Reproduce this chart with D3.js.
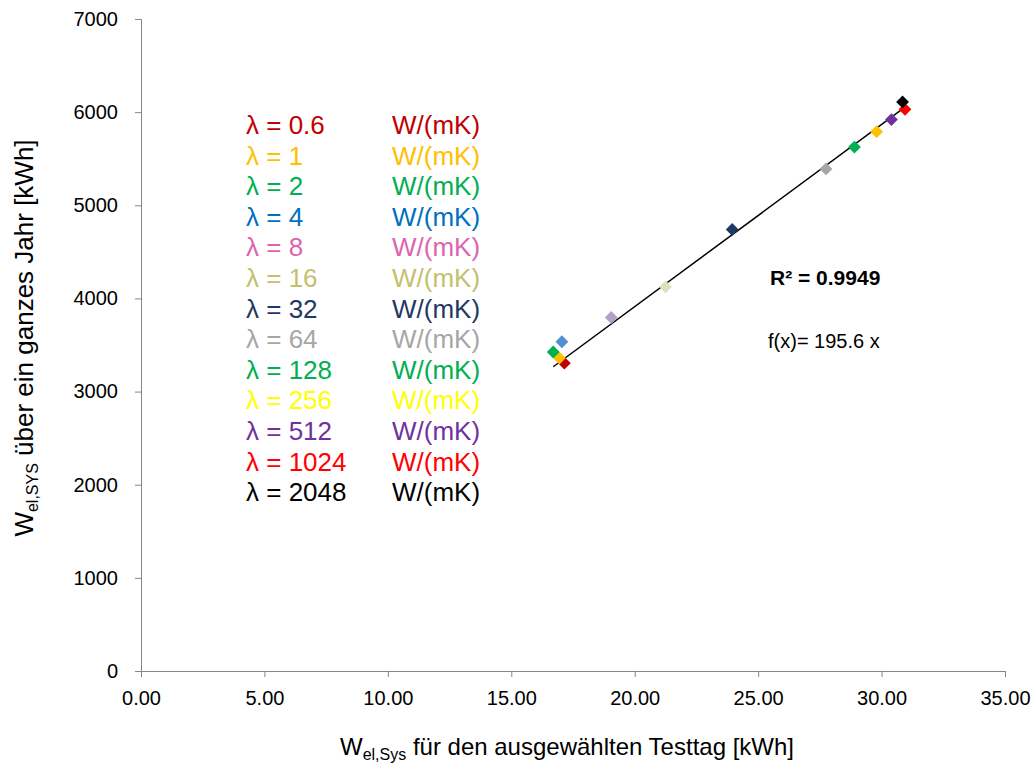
<!DOCTYPE html>
<html>
<head>
<meta charset="utf-8">
<script src="https://cdn.jsdelivr.net/npm/d3@7"></script>
<style>
  body { margin: 0; background: #fff; }
  text { font-family: "Liberation Sans", Arial, sans-serif; }
</style>
</head>
<body>
<div id="chart"></div>
<script>
// values
const lambdas = ["0.6", "1", "2", "4", "8", "16", "32", "64", "128", "256", "512", "1024", "2048"];
const testDay = [17.15, 16.95, 16.7, 17.05, 19.05, 21.25, 23.95, 27.75, 28.9, 29.8, 30.4, 30.95, 30.85];
const fullYear = [3305, 3360, 3425, 3535, 3795, 4125, 4740, 5390, 5625, 5790, 5920, 6030, 6110];
const textColors = ["#C00000", "#FFC000", "#00B050", "#0070C0", "#DE64AE", "#C4C06C", "#1F3864",
                    "#A6A6A6", "#00B050", "#FFFF00", "#7030A0", "#FF0000", "#000000"];
const markerColors = ["#C00000", "#FFC000", "#00B050", "#558ED5", "#B3A2C7", "#D7E4BD", "#1F3864",
                      "#A6A6A6", "#00B050", "#FFC000", "#7030A0", "#FF0000", "#000000"];
const xTicks = [0, 5, 10, 15, 20, 25, 30, 35];
const yTicks = [0, 1000, 2000, 3000, 4000, 5000, 6000, 7000];
const slope = 195.6;
const r2 = "0.9949";

const width = 1033;
const height = 767;
const margin = { left: 141, right: 28, top: 19, bottom: 96 };

const svg = d3.select("#chart")
              .append("svg")
              .attr("width", width)
              .attr("height", height);

const x = d3.scaleLinear().domain([0, 35]).range([margin.left, width - margin.right]);
const y = d3.scaleLinear().domain([0, 7000]).range([height - margin.bottom, margin.top]);

// axes
const xAxis = svg.append("g")
                 .attr("transform", `translate(0,${y(0)})`)
                 .call(d3.axisBottom(x).tickValues(xTicks).tickFormat(d3.format(".2f")).tickSize(6).tickPadding(14));
const yAxis = svg.append("g")
                 .attr("transform", `translate(${x(0)},0)`)
                 .call(d3.axisLeft(y).tickValues(yTicks).tickFormat(d => d).tickSize(6).tickPadding(17));

[xAxis, yAxis].forEach(a => {
    a.selectAll("path, line").attr("stroke", "#868686");
    a.selectAll("text").attr("fill", "#000").attr("font-size", 20)
        .attr("font-family", "Liberation Sans, Arial, sans-serif");
});

// axis titles
const xTitle = svg.append("text")
                  .attr("x", 567)
                  .attr("y", 755)
                  .attr("text-anchor", "middle")
                  .attr("font-size", 24);
xTitle.append("tspan").text("W");
xTitle.append("tspan").attr("font-size", 16).attr("dy", 5).text("el,Sys");
xTitle.append("tspan").attr("dy", -5).text(" für den ausgewählten Testtag [kWh]");

const yTitle = svg.append("text")
                  .attr("transform", `translate(33,338) rotate(-90)`)
                  .attr("text-anchor", "middle")
                  .attr("font-size", 26);
yTitle.append("tspan").text("W");
yTitle.append("tspan").attr("font-size", 16).attr("dy", 5).text("el,SYS");
yTitle.append("tspan").attr("dy", -5).text(" über ein ganzes Jahr [kWh]");

// trend line through origin, over the range of the data
const xMin = d3.min(testDay), xMax = d3.max(testDay);
svg.append("line")
   .attr("x1", x(xMin)).attr("y1", y(slope * xMin))
   .attr("x2", x(xMax)).attr("y2", y(slope * xMax))
   .attr("stroke", "#000")
   .attr("stroke-width", 1.5);

// diamond markers
const diamond = d3.symbol().type(d3.symbolSquare).size(82);
svg.selectAll(".pt")
   .data(lambdas)
   .enter().append("path")
   .attr("class", "pt")
   .attr("d", diamond)
   .attr("transform", (d, i) => `translate(${x(testDay[i])},${y(fullYear[i])}) rotate(45)`)
   .attr("fill", (d, i) => markerColors[i]);

// legend text
const legend = svg.selectAll(".leg")
                  .data(lambdas)
                  .enter().append("g")
                  .attr("class", "leg")
                  .attr("transform", (d, i) => `translate(246,${134 + i * 30.6})`);
legend.append("text")
      .attr("font-size", 26)
      .attr("fill", (d, i) => textColors[i])
      .text(d => `λ = ${d}`);
legend.append("text")
      .attr("x", 146)
      .attr("font-size", 26)
      .attr("fill", (d, i) => textColors[i])
      .text("W/(mK)");

// annotations
svg.append("text")
   .attr("x", 770).attr("y", 285)
   .attr("font-size", 21)
   .attr("font-weight", "bold")
   .text(`R² = ${r2}`);
svg.append("text")
   .attr("x", 768).attr("y", 348)
   .attr("font-size", 20)
   .text(`f(x)= ${slope} x`);
</script>
</body>
</html>
